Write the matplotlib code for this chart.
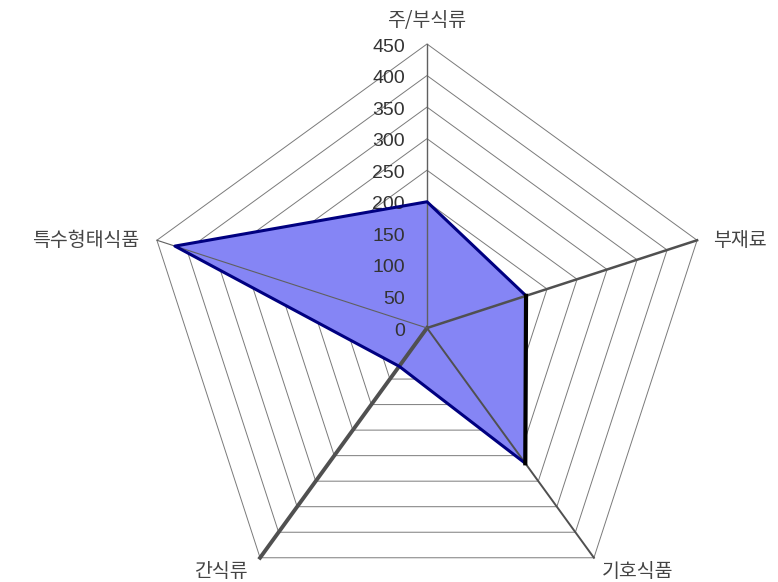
import numpy as np
import matplotlib.pyplot as plt
from matplotlib.patches import Polygon

plt.rcParams['font.family'] = ['Noto Sans CJK KR', 'DejaVu Sans']

# Data
categories = ["주/부식류", "부재료", "기호식품", "간식류", "특수형태식품"]
values = [200, 165, 265, 75, 420]
ticks = [0, 50, 100, 150, 200, 250, 300, 350, 400, 450]
r_max = 450

# angles (degrees), clockwise from top
angles = np.deg2rad([90, 18, -54, -126, 162])

# layout: centre at pixel (427, 328), radius 450 -> 284 px
W, H = 778, 582
cx, cy = 427, 328
scale = 450 / 284.0

fig = plt.figure(figsize=(W / 100, H / 100), dpi=100)
ax = fig.add_axes([0, 0, 1, 1])
ax.set_xlim(-cx * scale, (W - cx) * scale)
ax.set_ylim(-(H - cy) * scale, cy * scale)
ax.set_aspect("equal")
ax.axis("off")

cosA = np.round(np.cos(angles), 10)
sinA = np.round(np.sin(angles), 10)

# pentagon grid
for t in ticks[1:]:
    pts = np.column_stack([t * cosA, t * sinA])
    ax.add_patch(Polygon(pts, closed=True, fill=False, edgecolor="#7a7a7a",
                         lw=0.7, zorder=1))

# data polygon
v = np.array(values, dtype=float)
pts = np.column_stack([v * cosA, v * sinA])
ax.add_patch(Polygon(pts, closed=True, facecolor="#8585f5", edgecolor="none",
                     zorder=2))
ax.add_patch(Polygon(pts, closed=True, fill=False, edgecolor="#000080",
                     lw=2.2, joinstyle="round", zorder=4))
# vertical edge appears black and heavier
ax.plot(pts[1:3, 0], pts[1:3, 1], color="#000000", lw=3, zorder=5)

# axis spokes
spoke_w = [1.0, 1.8, 1.4, 2.8, 0.8]
spoke_c = ["#606060", "#505050", "#505050", "#505050", "#606060"]
for a_c, a_s, w, c in zip(cosA, sinA, spoke_w, spoke_c):
    ax.plot([0, r_max * a_c], [0, r_max * a_s], color=c, lw=w, zorder=3)

# tick labels along top axis
for t in ticks:
    ax.text(-22 * scale, t - 3 * scale, str(t), ha="right", va="center",
            fontsize=14, color="#333333", family=["Liberation Sans"])

# category labels
lab_cfg = [
    (0, 24, "center", "center"),
    (16, 0, "left", "center"),
    (8, -3, "left", "top"),
    (-12, -3, "right", "top"),
    (-18, 0, "right", "center"),
]
for name, a_c, a_s, (dx, dy, ha, va) in zip(categories, cosA, sinA, lab_cfg):
    ax.text(r_max * a_c + dx * scale, r_max * a_s + dy * scale, name,
            ha=ha, va=va, fontsize=14, color="#444444")

fig.savefig("out.png", dpi=100)
